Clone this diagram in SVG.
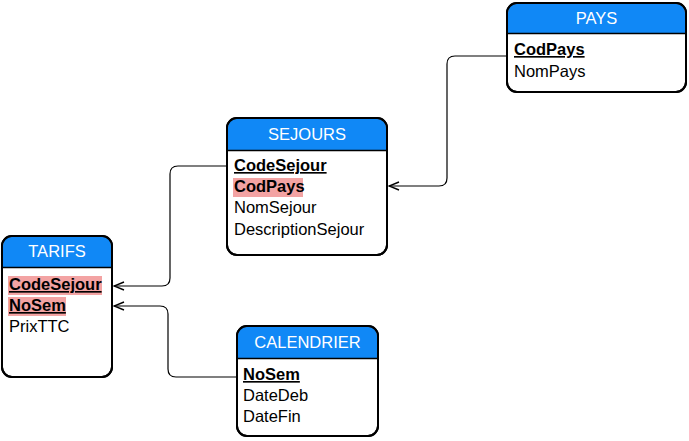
<svg xmlns="http://www.w3.org/2000/svg" width="689" height="441" viewBox="0 0 689 441">
<defs>
<style>
.box{fill:#fff;stroke:#000;stroke-width:2}
.hdr{fill:#1088f6}
.sep{stroke:#000;stroke-width:1.5}
.ht{font-family:"Liberation Sans",Arial,sans-serif;font-size:16.5px;fill:#fff;text-anchor:middle}
.t{font-family:"Liberation Sans",Arial,sans-serif;font-size:16.5px;fill:#000}
.k{font-weight:bold;text-decoration:underline}
.hl{fill:#f3a3a3}
.c{fill:none;stroke:#000;stroke-width:1.2}
</style>
<marker id="arr" markerWidth="12" markerHeight="10" refX="11" refY="5" orient="auto" markerUnits="userSpaceOnUse">
<path d="M1,1 L11,5 L1,9" fill="none" stroke="#000" stroke-width="1.4"/>
</marker>
</defs>
<g id="PAYS">
<rect class="box" x="507" y="3" width="179" height="89" rx="10"/>
<path class="hdr" d="M517,4 H676 Q685,4 685,13 V33 H508 V13 Q508,4 517,4 Z"/>
<rect x="507" y="3" width="179" height="89" rx="10" fill="none" stroke="#000" stroke-width="2"/>
<line class="sep" x1="507" y1="33.5" x2="686" y2="33.5"/>
<text class="ht" x="596.5" y="24">PAYS</text>
<text class="t k" x="514" y="55">CodPays</text>
<text class="t" x="514" y="77">NomPays</text>
</g>
<g id="SEJOURS">
<rect class="box" x="227" y="118" width="160" height="137" rx="10"/>
<path class="hdr" d="M237,119 H377 Q386,119 386,128 V150 H228 V128 Q228,119 237,119 Z"/>
<rect x="227" y="118" width="160" height="137" rx="10" fill="none" stroke="#000" stroke-width="2"/>
<line class="sep" x1="227" y1="150.5" x2="387" y2="150.5"/>
<text class="ht" x="307" y="140">SEJOURS</text>
<text class="t k" x="234" y="171">CodeSejour</text>
<rect class="hl" x="233" y="178" width="70" height="19"/>
<text class="t" x="234" y="192" font-weight="bold">CodPays</text>
<text class="t" x="234" y="213">NomSejour</text>
<text class="t" x="234" y="235">DescriptionSejour</text>
</g>
<g id="TARIFS">
<rect class="box" x="2" y="236" width="110" height="141" rx="10"/>
<path class="hdr" d="M12,237 H102 Q111,237 111,246 V267 H3 V246 Q3,237 12,237 Z"/>
<rect x="2" y="236" width="110" height="141" rx="10" fill="none" stroke="#000" stroke-width="2"/>
<line class="sep" x1="2" y1="267.5" x2="112" y2="267.5"/>
<text class="ht" x="57" y="257">TARIFS</text>
<rect class="hl" x="8" y="276" width="94" height="19"/>
<text class="t k" x="9" y="290">CodeSejour</text>
<rect class="hl" x="8" y="297" width="58" height="19"/>
<text class="t k" x="9" y="311">NoSem</text>
<text class="t" x="9" y="332">PrixTTC</text>
</g>
<g id="CALENDRIER">
<rect class="box" x="237" y="326" width="141" height="110" rx="10"/>
<path class="hdr" d="M247,327 H368 Q377,327 377,336 V358 H238 V336 Q238,327 247,327 Z"/>
<rect x="237" y="326" width="141" height="110" rx="10" fill="none" stroke="#000" stroke-width="2"/>
<line class="sep" x1="237" y1="358.5" x2="378" y2="358.5"/>
<text class="ht" x="307.5" y="348">CALENDRIER</text>
<text class="t k" x="243" y="380">NoSem</text>
<text class="t" x="243" y="401">DateDeb</text>
<text class="t" x="243" y="422">DateFin</text>
</g>
<g id="connectors">
<path class="c" d="M507,56 H455 Q447,56 447,64 V178 Q447,186 439,186 H389" marker-end="url(#arr)"/>
<path class="c" d="M227,166 H178 Q170,166 170,174 V278 Q170,286 162,286 H114" marker-end="url(#arr)"/>
<path class="c" d="M237,377 H176 Q168,377 168,369 V314 Q168,306 160,306 H114" marker-end="url(#arr)"/>
</g>
</svg>
